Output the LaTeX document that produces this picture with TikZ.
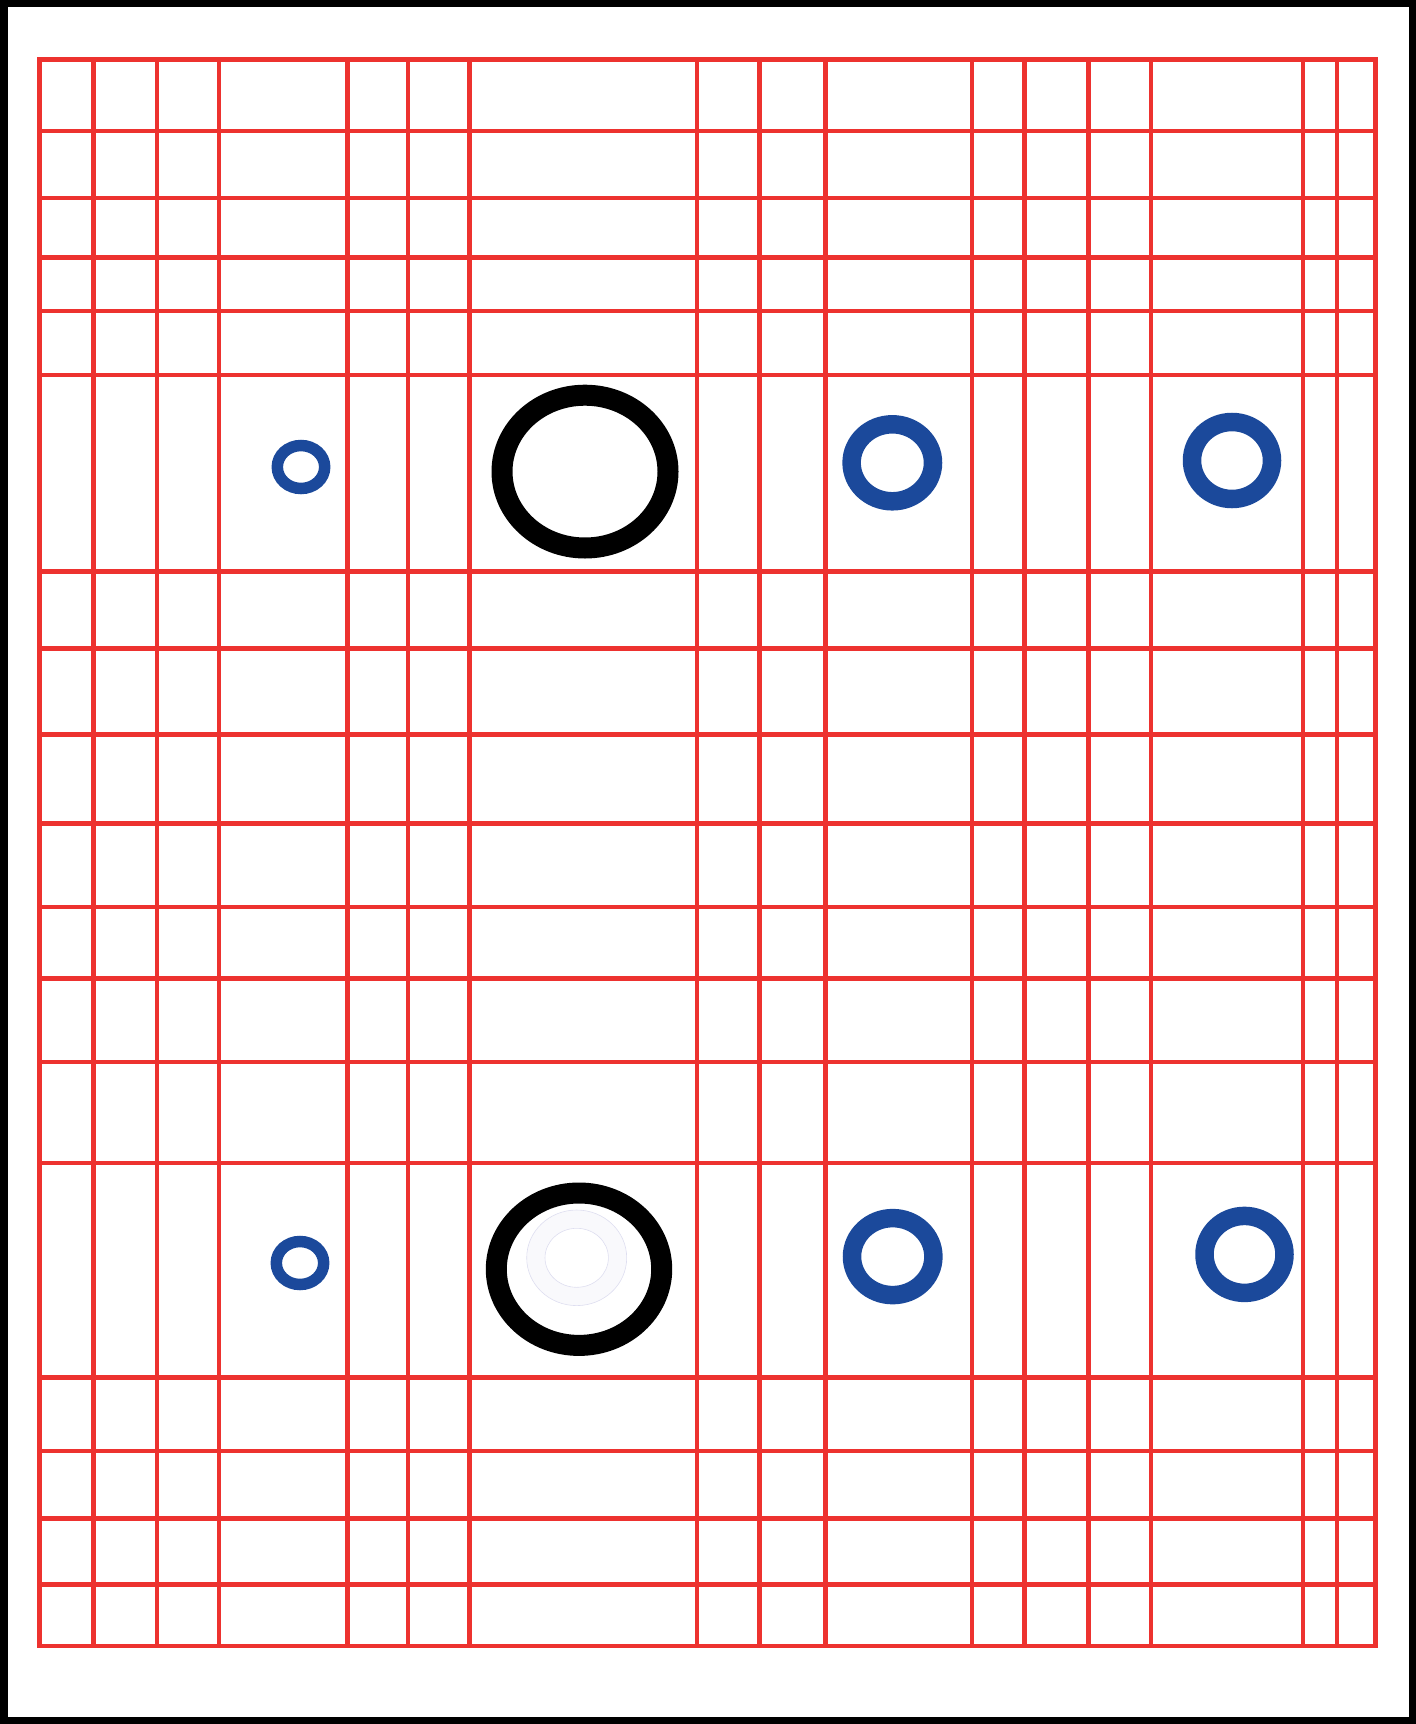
\documentclass[tikz,border=0pt]{standalone}
\usepackage{tikz}

\definecolor{gridred}{RGB}{237,50,47}
\definecolor{holeblue}{RGB}{27,73,155}
\definecolor{paleedge}{RGB}{222,222,240}
\definecolor{palefill}{RGB}{249,249,252}

\tikzset{
  gridline/.style={draw=gridred, line width=4.5},
  bluehole/.style={draw=holeblue, line width=18.5},
  smallhole/.style={draw=holeblue, line width=11.5},
  blackhole/.style={draw=black, line width=21},
}

\begin{document}
\begin{tikzpicture}[x=1pt,y=1pt,yscale=-1,xscale=1]
\useasboundingbox (0,0) rectangle (1416,1724);

% frame
\draw [line width=7]  (4,3.5) rectangle (1412.5,1720.5) ;

% grid
\foreach \gx in {39.6,93.4,157.2,218.8,347.4,407.9,469.4,697,759.7,825.7,971.9,1024.7,1088.4,1151.1,1302.8,1336.9,1375.4}
  \draw [gridline]  (\gx,57.2) -- (\gx,1648) ;
\foreach \gy in {59.4,130.8,197.9,257.3,311.1,374.9,571.7,648.6,734.4,823.5,907,978.5,1062,1163.2,1377.6,1451.2,1518.3,1584.3,1645.8}
  \draw [gridline]  (37.4,\gy) -- (1377.6,\gy) ;

% upper row
\draw [smallhole]  (301,467) ellipse [x radius=23.7, y radius=21.5] ;
\draw [blackhole]  (585,471.6) ellipse [x radius=83, y radius=76.4] ;
\draw [bluehole]  (892.3,462.8) ellipse [x radius=40.7, y radius=38.5] ;
\draw [bluehole]  (1232,460.5) ellipse [x radius=40, y radius=38.5] ;

% lower row
\draw [smallhole]  (300,1263) ellipse [x radius=23.7, y radius=21.5] ;
\draw [blackhole]  (579,1269.2) ellipse [x radius=82.7, y radius=76.2] ;
\draw [draw=paleedge, fill=palefill, line width=0.6, even odd rule]  (576.7,1257.8) ellipse [x radius=50, y radius=47.8] (576.7,1257.8) ellipse [x radius=31.7, y radius=29.5] ;
\draw [bluehole]  (892.7,1256.6) ellipse [x radius=40.7, y radius=38.5] ;
\draw [bluehole]  (1244.5,1254.4) ellipse [x radius=40, y radius=38.5] ;

\end{tikzpicture}
\end{document}
